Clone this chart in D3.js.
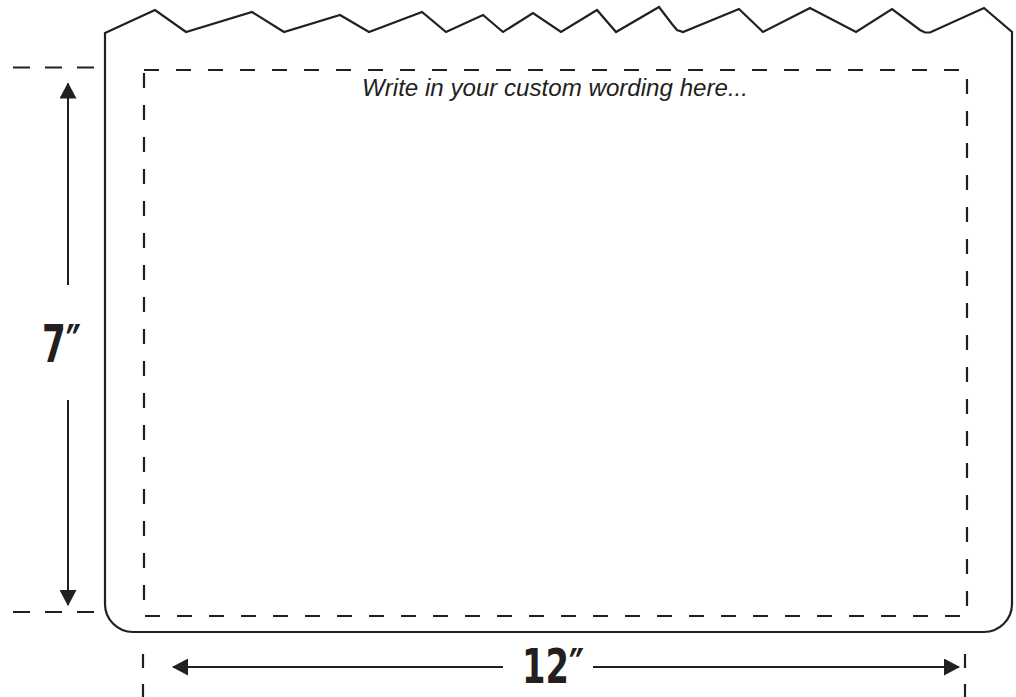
<!DOCTYPE html>
<html>
<head>
<meta charset="utf-8">
<script src="https://cdn.jsdelivr.net/npm/d3@7"></script>
<style>
  body { margin: 0; background: #fff; }
  svg { display: block; }
</style>
</head>
<body>
<div id="sign"></div>
<script>
// board size in inches, used for the dimension labels
var boardInches = [12, 7];
var dimLabels = ["12″", "7″"];
var caption = "Write in your custom wording here...";

// torn top edge of the board (px)
var edgeX = [105, 155, 186, 252, 284, 340, 369, 422, 446, 483, 503, 533, 561, 597, 616, 659, 672, 677, 683, 739, 763, 810, 856, 892, 920, 925, 930, 984, 1012];
var edgeY = [33, 10, 32, 12, 32, 15, 32, 12, 32, 15, 32, 13, 32, 10, 32, 7, 24, 30, 32, 9, 32, 8, 32, 9, 30, 32.5, 32.5, 8, 32];

var ink = "#231f20";

function drawSign() {
    var w = 1016;
    var h = 697;

    var svg = d3.select("#sign")
        .append("svg")
        .attr("width", w)
        .attr("height", h);

    // inch scales for the safe (dashed) area
    var x = d3.scaleLinear().domain([0, boardInches[0]]).range([143, 965]);
    var y = d3.scaleLinear().domain([0, boardInches[1]]).range([67.5, 612]);

    var left = 105, right = 1012, bottom = 632, r = 28;

    // outline: torn top, straight sides, rounded bottom corners
    var pts = edgeX.map(function(d, i) { return [d, edgeY[i]]; });
    var p = d3.path();
    p.moveTo(pts[0][0], pts[0][1]);
    pts.slice(1).forEach(function(d) { p.lineTo(d[0], d[1]); });
    p.lineTo(right, bottom - r);
    p.arcTo(right, bottom, right - r, bottom, r);
    p.lineTo(left + r, bottom);
    p.arcTo(left, bottom, left, bottom - r, r);
    p.closePath();

    svg.append("path")
        .attr("d", p.toString())
        .attr("fill", "none")
        .attr("stroke", ink)
        .attr("stroke-width", 2.2)
        .attr("stroke-linejoin", "miter");

    // dashed safe area
    svg.append("rect")
        .attr("x", 144)
        .attr("y", 70)
        .attr("width", 967 - 144)
        .attr("height", 616 - 70)
        .attr("fill", "none")
        .attr("stroke", ink)
        .attr("stroke-width", 2.2)
        .attr("stroke-dasharray", "15,17");

    svg.append("text")
        .attr("x", 555)
        .attr("y", 96)
        .attr("text-anchor", "middle")
        .attr("font-family", "'Liberation Sans', Arial, sans-serif")
        .attr("font-style", "italic")
        .attr("font-size", "24px")
        .attr("textLength", 386)
        .attr("lengthAdjust", "spacingAndGlyphs")
        .attr("fill", ink)
        .text(caption);

    // arrow heads
    var defs = svg.append("defs");
    defs.append("marker")
        .attr("id", "head")
        .attr("viewBox", "0 0 16 17")
        .attr("refX", 15)
        .attr("refY", 8.5)
        .attr("markerWidth", 16)
        .attr("markerHeight", 17)
        .attr("markerUnits", "userSpaceOnUse")
        .attr("orient", "auto")
        .append("path")
        .attr("d", "M0,0L16,8.5L0,17Z")
        .attr("fill", ink);

    // vertical dimension (7")
    var vx = 68;
    [y(0), y(boardInches[1])].forEach(function(d) {
        svg.append("line")
            .attr("x1", 13).attr("x2", 94)
            .attr("y1", d).attr("y2", d)
            .attr("stroke", ink)
            .attr("stroke-width", 2.2)
            .attr("stroke-dasharray", "17,15");
    });
    svg.append("line")
        .attr("x1", vx).attr("x2", vx)
        .attr("y1", 285).attr("y2", y(0) + 16)
        .attr("stroke", ink).attr("stroke-width", 2)
        .attr("marker-end", "url(#head)");
    svg.append("line")
        .attr("x1", vx).attr("x2", vx)
        .attr("y1", 400).attr("y2", y(boardInches[1]) - 7)
        .attr("stroke", ink).attr("stroke-width", 2)
        .attr("marker-end", "url(#head)");
    svg.append("text")
        .attr("x", 42)
        .attr("y", 362)
        .attr("font-family", "'Liberation Sans Narrow', 'DejaVu Sans Condensed', sans-serif")
        .attr("font-weight", "bold")
        .attr("font-size", "51px")
        .attr("textLength", 39)
        .attr("lengthAdjust", "spacingAndGlyphs")
        .attr("fill", ink)
        .text(dimLabels[1]);

    // horizontal dimension (12")
    var hy = 667;
    [x(0), x(boardInches[0])].forEach(function(d) {
        svg.append("line")
            .attr("x1", d).attr("x2", d)
            .attr("y1", 654).attr("y2", 700)
            .attr("stroke", ink)
            .attr("stroke-width", 2.2)
            .attr("stroke-dasharray", "14,16");
    });
    svg.append("line")
        .attr("x1", 503).attr("x2", x(0) + 30)
        .attr("y1", hy).attr("y2", hy)
        .attr("stroke", ink).attr("stroke-width", 2)
        .attr("marker-end", "url(#head)");
    svg.append("line")
        .attr("x1", 593).attr("x2", x(boardInches[0]) - 6)
        .attr("y1", hy).attr("y2", hy)
        .attr("stroke", ink).attr("stroke-width", 2)
        .attr("marker-end", "url(#head)");
    svg.append("text")
        .attr("x", 522)
        .attr("y", 683)
        .attr("font-family", "'Liberation Sans Narrow', 'DejaVu Sans Condensed', sans-serif")
        .attr("font-weight", "bold")
        .attr("font-size", "48px")
        .attr("textLength", 62)
        .attr("lengthAdjust", "spacingAndGlyphs")
        .attr("fill", ink)
        .text(dimLabels[0]);
}

drawSign();
</script>
</body>
</html>
